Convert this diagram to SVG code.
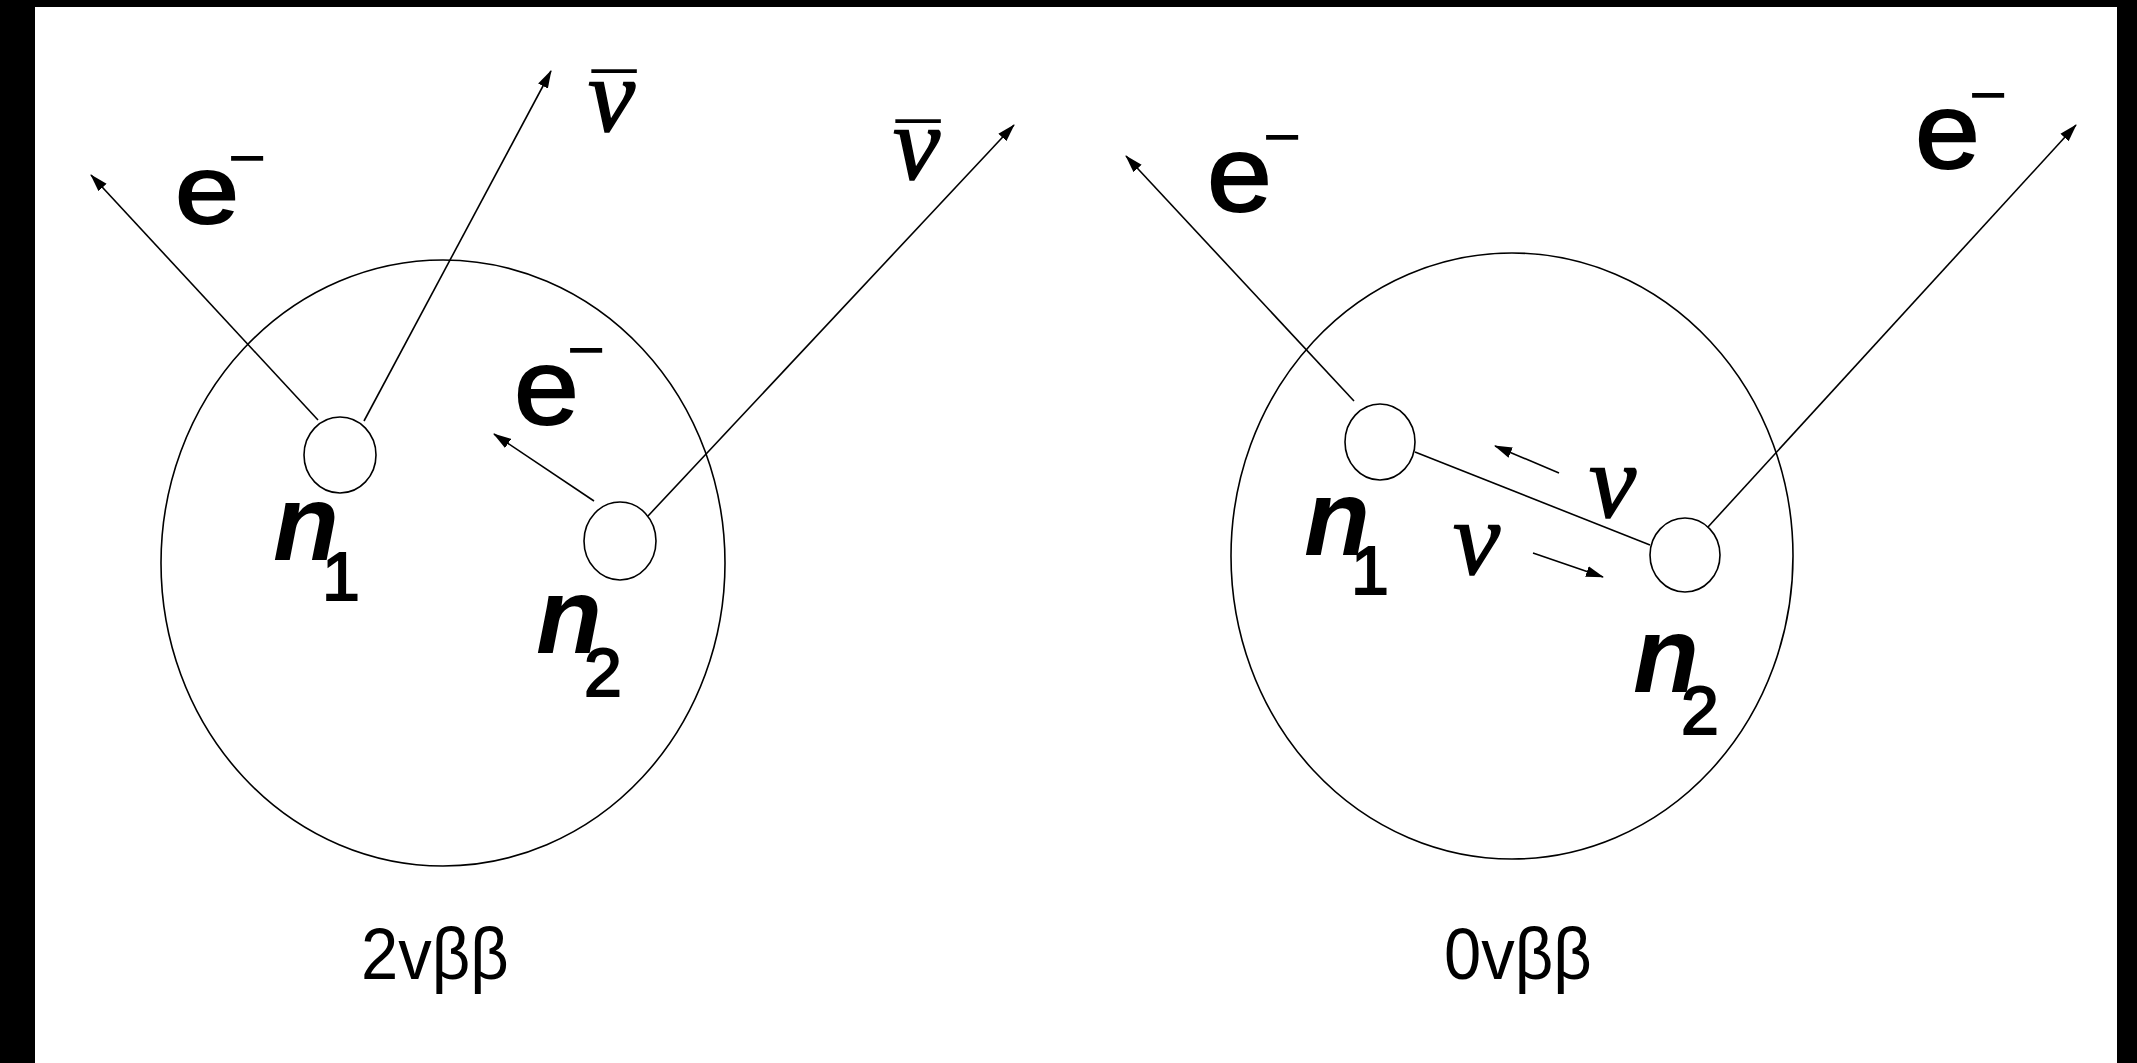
<svg xmlns="http://www.w3.org/2000/svg" width="2137" height="1063" viewBox="0 0 2137 1063">
<defs>
<marker id="ah" markerUnits="userSpaceOnUse" markerWidth="18" markerHeight="12" viewBox="0 0 18 12" refX="17" refY="6" orient="auto">
<path d="M0,0.5 L18,6 L0,11.5 z" fill="#000"/>
</marker>
</defs>
<style>
.bg{fill:#fff}
.bar{fill:#000}
.nuc{fill:none;stroke:#000;stroke-width:1.6}
.par{fill:none;stroke:#000;stroke-width:1.6}
.arr{fill:none;stroke:#000;stroke-width:1.6;marker-end:url(#ah)}
.e{font-family:"Liberation Sans",Arial,sans-serif;fill:#000;stroke:#000;stroke-width:2}
.m{font-family:"Liberation Sans",Arial,sans-serif;font-size:66px;fill:#000}
.n{font-family:"Liberation Sans",Arial,sans-serif;font-size:108px;font-weight:bold;font-style:italic;fill:#000}
.sub{font-family:"Liberation Sans",Arial,sans-serif;font-size:68px;fill:#000;stroke:#000;stroke-width:2}
.nu{font-family:"Liberation Serif","Times New Roman",serif;font-size:106px;font-style:italic;fill:#000;stroke:#000;stroke-width:1.5}
.mac{font-family:"Liberation Sans",Arial,sans-serif;font-size:80px;fill:#000}
.cap{font-family:"Liberation Sans",Arial,sans-serif;font-size:72px;fill:#000}
</style>
<rect class="bg" x="0" y="0" width="2137" height="1063"/>
<rect class="bar" x="0" y="0" width="2137" height="7"/>
<rect class="bar" x="0" y="0" width="35" height="1063"/>
<rect class="bar" x="2117" y="0" width="20" height="1063"/>

<g id="nucleus-left"><ellipse class="nuc" cx="443" cy="563" rx="282" ry="303"/></g>
<g id="nucleus-right"><ellipse class="nuc" cx="1512" cy="556" rx="281" ry="303"/></g>
<g id="n1-left"><ellipse class="nuc" cx="340" cy="455" rx="36" ry="38"/></g>
<g id="n2-left"><ellipse class="nuc" cx="620" cy="541" rx="36" ry="39"/></g>
<g id="n1-right"><ellipse class="nuc" cx="1380" cy="442" rx="35" ry="38"/></g>
<g id="n2-right"><ellipse class="nuc" cx="1685" cy="555" rx="35" ry="37"/></g>

<g id="connectors">
<line class="arr" x1="318" y1="420" x2="91" y2="175"/>
<line class="arr" x1="364" y1="421" x2="551" y2="71"/>
<line class="arr" x1="648" y1="516" x2="1014" y2="125"/>
<line class="arr" x1="594" y1="501" x2="494" y2="434"/>
<line class="arr" x1="1354" y1="401" x2="1126" y2="156"/>
<line class="arr" x1="1708" y1="527" x2="2076" y2="125"/>
<line class="par" x1="1415" y1="452" x2="1650" y2="545"/>
<line class="arr" x1="1559" y1="473" x2="1495" y2="446"/>
<line class="arr" x1="1533" y1="553" x2="1603" y2="577"/>
</g>

<g id="labels-left">
<text class="e" font-size="96" transform="translate(175,223) scale(1.2,1)">e</text>
<text class="m" x="228" y="180">−</text>
<text class="e" font-size="108" transform="translate(514,424) scale(1.08,1)">e</text>
<text class="m" x="567" y="372">−</text>
<text class="n" x="273" y="560">n</text>
<text class="sub" x="322" y="600">1</text>
<text class="n" x="536" y="653">n</text>
<text class="sub" x="584" y="696">2</text>
<text class="nu" x="588" y="131">ν</text>
<text class="mac" x="592" y="130">¯</text>
<text class="nu" x="893" y="179">ν</text>
<text class="mac" x="896" y="180">¯</text>
<text class="cap" transform="translate(361,979) scale(0.93,1)">2vββ</text>
</g>

<g id="labels-right">
<text class="e" font-size="108" transform="translate(1207,211) scale(1.08,1)">e</text>
<text class="m" x="1263" y="159">−</text>
<text class="e" font-size="108" transform="translate(1915,168) scale(1.08,1)">e</text>
<text class="m" x="1969" y="117">−</text>
<text class="n" x="1304" y="555">n</text>
<text class="sub" x="1351" y="594">1</text>
<text class="n" x="1633" y="692">n</text>
<text class="sub" x="1681" y="734">2</text>
<text class="nu" x="1589" y="517">ν</text>
<text class="nu" x="1453" y="574">ν</text>
<text class="cap" transform="translate(1444,979) scale(0.93,1)">0vββ</text>
</g>
</svg>
